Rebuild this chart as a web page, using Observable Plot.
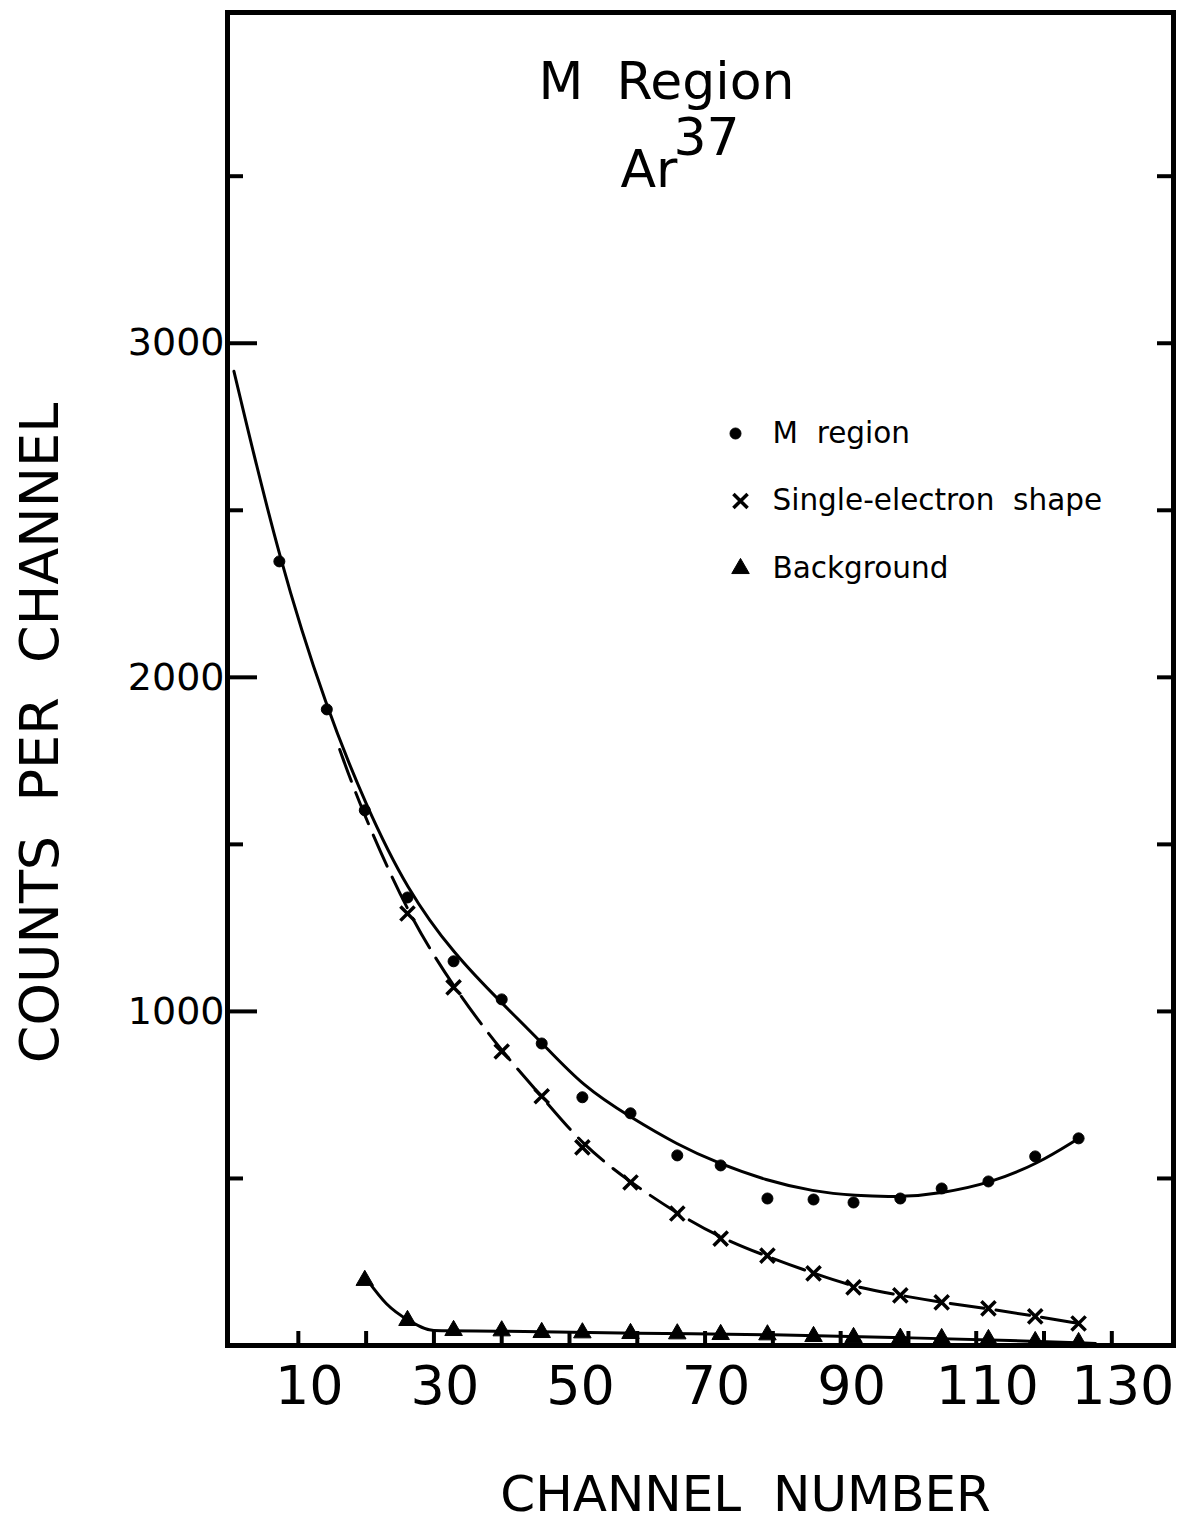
<!DOCTYPE html>
<html>
<head>
<meta charset="utf-8">
<script src="https://cdn.jsdelivr.net/npm/d3@7"></script>
<script src="https://cdn.jsdelivr.net/npm/@observablehq/plot@0.6"></script>
<style>
  body { margin: 0; background: #fff; }
  svg text { white-space: pre; }
</style>
</head>
<body>
<div id="chart"></div>
<script>
// Channel positions of the measured points
const channels = [7.2, 14.2, 19.8, 26.1, 32.9, 40.0, 45.9, 51.9, 59.0, 65.9, 72.3, 79.2, 86.0, 91.9, 98.8, 104.9, 111.8, 118.7, 125.1];

// M region counts (all channels)
const mRegion = [2347, 1904, 1602, 1341, 1150, 1036, 904, 743, 695, 569, 539, 440, 437, 428, 440, 470, 491, 566, 620];

// Single-electron shape (from channel 26 on)
const singleChannels = channels.slice(3);
const singleElectron = [1293, 1072, 880, 746, 593, 488, 395, 320, 269, 216, 174, 150, 129, 111, 87, 66];

// Background (from channel 20 on)
const bgChannels = channels.slice(2);
const background = [195, 75, 45, 44, 39, 38, 36, 35, 33, 32, 27, 24, 22, 21, 18, 12, 9];

// Hand-drawn fitted curves
const mFitX = [0.5, 7.2, 14.2, 20, 26, 33, 40, 46, 52, 59, 66, 72, 79, 86, 92, 99, 105, 112, 119, 125.1];
const mFitY = [2916, 2347, 1904, 1615, 1365, 1170, 1025, 905, 775, 683, 600, 545, 494, 461, 448, 444, 456, 486, 543, 620];

const seFitX = [16.1, 19, 26.1, 32.9, 40.0, 45.9, 51.9, 59.0, 65.9, 72.3, 79.2, 86.0, 91.9, 98.8, 104.9, 111.8, 118.7, 125.1];
const seFitY = [1784, 1620, 1293, 1072, 880, 746, 600, 488, 395, 322, 266, 216, 176, 150, 129, 110, 88, 66];

const bgFitX = [20.2, 23, 26.3, 30, 40, 60, 80, 100, 115, 127.6];
const bgFitY = [195, 125, 75, 45, 43, 37, 32, 23, 15, 6];

// Axis ticks and labels
const xTicks = d3.range(10, 131, 10);
const xTickLabels = [10, 30, 50, 70, 90, 110, 130];
const yMajorTicks = [1000, 2000, 3000];
const yMinorTicks = [500, 1500, 2500, 3500];
const yAllTicks = [500, 1000, 1500, 2000, 2500, 3000, 3500];

// Legend entries
const legendLabels = ["M  region", "Single-electron  shape", "Background"];
const legendSymbols = ["circle", "times", "triangle"];

const FRAME_W = 1183 - 227 - 10;
const FRAME_H = 1524 - 12 - 179;
const font = "DejaVu Sans";

const toRows = (xs, ys) => xs.map((x, i) => ({x, y: ys[i]}));

function symbolStyle(sym) {
  if (sym === "times") return {symbol: "times", stroke: "#000", strokeWidth: 3.5, fill: "none", r: 6.5};
  if (sym === "triangle") return {symbol: "triangle", fill: "#000", stroke: "#000", strokeWidth: 1, r: 6.5};
  return {symbol: "circle", fill: "#000", stroke: "#000", strokeWidth: 1, r: 5.5};
}

const legendMarks = legendLabels.flatMap((label, i) => {
  const dy = 421 + i * 67.5;
  return [
    Plot.dot([label], {frameAnchor: "top-left", dx: legendSymbols[i] === "circle" ? 508 : 513, dy, ...symbolStyle(legendSymbols[i])}),
    Plot.text([label], {frameAnchor: "top-left", dx: 545, dy, text: d => d, textAnchor: "start", lineAnchor: "middle", fontSize: 29.5, fill: "#000"})
  ];
});

const chart = Plot.plot({
  width: 1183,
  height: 1524,
  marginTop: 12,
  marginRight: 10,
  marginBottom: 179,
  marginLeft: 227,
  style: {fontFamily: font, background: "#fff", color: "#000"},
  x: {domain: [-0.45, 139.1], axis: null},
  y: {domain: [0, 3990], axis: null},
  marks: [
    // inward ticks
    Plot.ruleX(xTicks, {x: d => d, insetTop: FRAME_H - 14, stroke: "#000", strokeWidth: 4}),
    Plot.ruleY(yMajorTicks, {y: d => d, insetRight: FRAME_W - 30, stroke: "#000", strokeWidth: 4}),
    Plot.ruleY(yMinorTicks, {y: d => d, insetRight: FRAME_W - 16, stroke: "#000", strokeWidth: 4}),
    Plot.ruleY(yAllTicks, {y: d => d, insetLeft: FRAME_W - 16, stroke: "#000", strokeWidth: 4}),

    // fitted curves
    Plot.line(toRows(mFitX, mFitY), {x: "x", y: "y", curve: "basis", stroke: "#000", strokeWidth: 3}),
    Plot.line(toRows(seFitX, seFitY), {x: "x", y: "y", curve: "basis", stroke: "#000", strokeWidth: 3, strokeDasharray: "34,12"}),
    Plot.line(toRows(bgFitX, bgFitY), {x: "x", y: "y", curve: "monotone-x", stroke: "#000", strokeWidth: 3}),

    // measured points
    Plot.dot(toRows(channels, mRegion), {x: "x", y: "y", ...symbolStyle("circle")}),
    Plot.dot(toRows(singleChannels, singleElectron), {x: "x", y: "y", ...symbolStyle("times")}),
    Plot.dot(toRows(bgChannels, background), {x: "x", y: "y", ...symbolStyle("triangle")}),

    Plot.frame({stroke: "#000", strokeWidth: 5}),

    // tick labels
    Plot.text(xTickLabels, {x: d => d, text: d => String(d), frameAnchor: "bottom", lineAnchor: "top", dy: 20, dx: 11, fontSize: 54, fill: "#000"}),
    Plot.text(yMajorTicks, {y: d => d, text: d => String(d), frameAnchor: "left", textAnchor: "end", lineAnchor: "middle", dx: -3, fontSize: 38, fill: "#000"}),

    // axis titles
    Plot.text(["CHANNEL  NUMBER"], {frameAnchor: "bottom", textAnchor: "middle", lineAnchor: "top", dy: 130, dx: 45, fontSize: 50, fill: "#000"}),
    Plot.text(["COUNTS  PER  CHANNEL"], {frameAnchor: "left", textAnchor: "middle", rotate: -90, lineAnchor: "middle", dx: -187, dy: 54, fontSize: 54, fill: "#000"}),

    // chart title
    Plot.text(["M  Region"], {frameAnchor: "top", textAnchor: "middle", lineAnchor: "top", dy: 50, dx: -34, fontSize: 52, fill: "#000"}),
    Plot.text(["Ar"], {frameAnchor: "top", lineAnchor: "top", textAnchor: "start", dy: 138, dx: -80, fontSize: 52, fill: "#000"}),
    Plot.text(["37"], {frameAnchor: "top", lineAnchor: "top", textAnchor: "start", dy: 106, dx: -27, fontSize: 52, fill: "#000"}),

    ...legendMarks
  ]
});

document.getElementById("chart").appendChild(chart);
</script>
</body>
</html>
